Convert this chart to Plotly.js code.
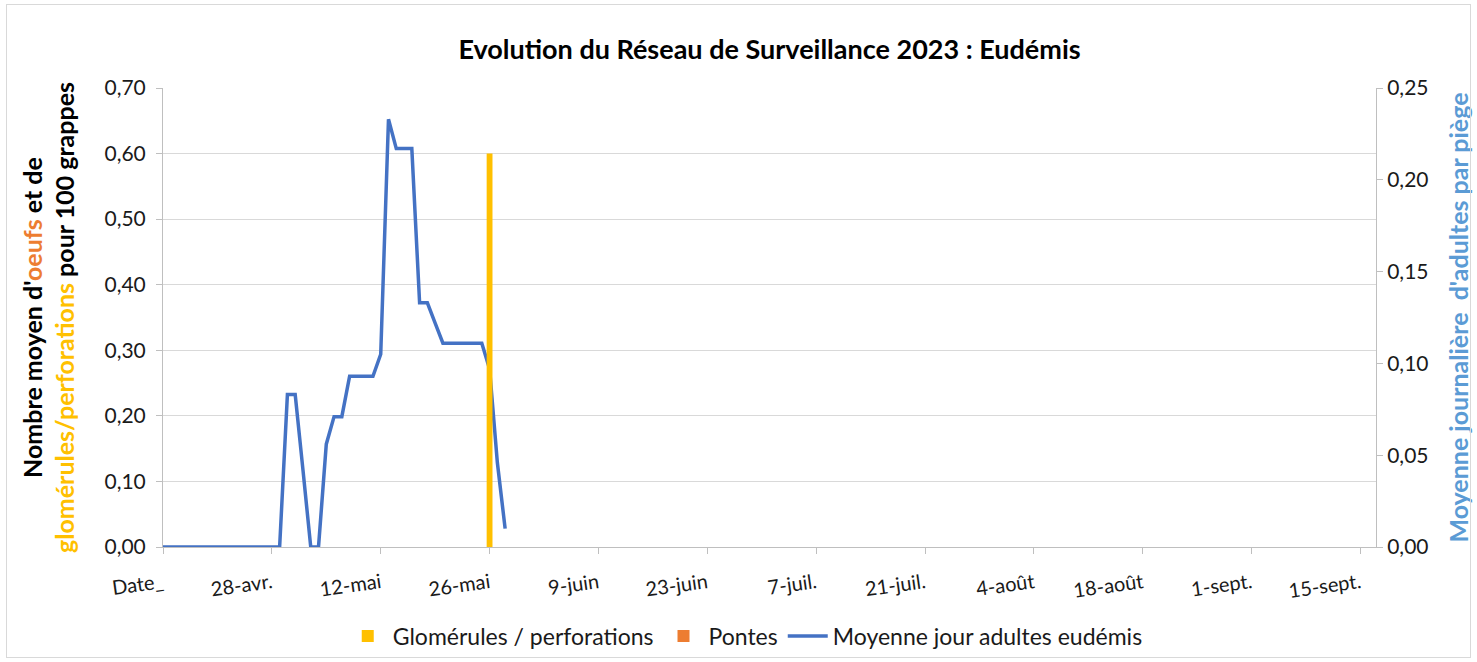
<!DOCTYPE html>
<html><head><meta charset="utf-8">
<script src="https://cdn.plot.ly/plotly-3.0.1.min.js"></script>
<style>
body{margin:0;padding:0;background:#fff;}
#wrap{position:relative;width:1477px;height:662px;}
#frame{position:absolute;left:6px;top:4px;width:1463px;height:652px;border:1px solid #d9d9d9;pointer-events:none;}
#chart{position:absolute;left:0;top:0;width:1477px;height:662px;}
</style></head>
<body><div id="wrap"><div id="chart"></div><div id="frame"></div></div>
<script>
// Tick dates and labels (every 14 days)
const tickDates = ['2023-04-14','2023-04-28','2023-05-12','2023-05-26','2023-06-09','2023-06-23','2023-07-07','2023-07-21','2023-08-04','2023-08-18','2023-09-01','2023-09-15'];
const tickLabels = ['Date_','28-avr.','12-mai','26-mai','9-juin','23-juin','7-juil.','21-juil.','4-août','18-août','1-sept.','15-sept.'];

// Moyenne jour adultes eudémis (daily values, right axis)
const adultDates = ['2023-04-14','2023-04-15','2023-04-16','2023-04-17','2023-04-18','2023-04-19','2023-04-20','2023-04-21','2023-04-22','2023-04-23','2023-04-24','2023-04-25','2023-04-26','2023-04-27','2023-04-28','2023-04-29','2023-04-30','2023-05-01','2023-05-02','2023-05-03','2023-05-04','2023-05-05','2023-05-06','2023-05-07','2023-05-08','2023-05-09','2023-05-10','2023-05-11','2023-05-12','2023-05-13','2023-05-14','2023-05-15','2023-05-16','2023-05-17','2023-05-18','2023-05-19','2023-05-20','2023-05-21','2023-05-22','2023-05-23','2023-05-24','2023-05-25','2023-05-26','2023-05-27','2023-05-28'];
const adultValues = [0,0,0,0,0,0,0,0,0,0,0,0,0,0,0,0,0.083,0.083,0.042,0,0,0.056,0.071,0.071,0.093,0.093,0.093,0.093,0.105,0.233,0.217,0.217,0.217,0.133,0.133,0.122,0.111,0.111,0.111,0.111,0.111,0.111,0.097,0.046,0.010];

// Glomérules / perforations (left axis)
const gloDates = ['2023-05-26'];
const gloValues = [0.60];

// Pontes (left axis)
const ponteDates = ['2023-05-26'];
const ponteValues = [0];

const DAY = 86400000;
const font = 'Lato, "Liberation Sans", sans-serif';

const traces = [
  {type:'bar', name:'Glomérules / perforations', x:gloDates, y:gloValues, yaxis:'y2',
   width:gloDates.map(()=>0.75*DAY), marker:{color:'#FFC000'}},
  {type:'bar', name:'Pontes', x:ponteDates, y:ponteValues, yaxis:'y2',
   width:ponteDates.map(()=>0.75*DAY), marker:{color:'#ED7D31'}},
  {type:'scatter', mode:'lines', name:'Moyenne jour adultes eudémis', x:adultDates, y:adultValues, yaxis:'y',
   line:{color:'#4472C4', width:3.5}}
];

const layout = {
  width:1477, height:662,
  margin:{l:163, r:101, t:88, b:115},
  paper_bgcolor:'#fff', plot_bgcolor:'#fff',
  font:{family:font, color:'#1a1a1a', size:20},
  separators:', ',
  showlegend:true,
  barmode:'overlay',
  title:{text:'<b>Evolution du Réseau de Surveillance 2023 : Eudémis</b>', font:{family:font, size:27, color:'#000'},
         x:0.5, xref:'paper', xanchor:'center', y:1-50/662, yref:'container', yanchor:'middle', automargin:false},
  xaxis:{type:'date', range:['2023-04-14','2023-09-17'], tickvals:tickDates, ticktext:tickLabels, automargin:false,
         tickangle:-8, tickfont:{size:20, color:'#1a1a1a'}, showgrid:false, zeroline:false, ticklabelstandoff:10,
         showline:true, linecolor:'#bfbfbf', linewidth:1, ticks:'outside', ticklen:6, tickcolor:'#bfbfbf'},
  yaxis:{side:'right', range:[0,0.25], dtick:0.05, tickformat:'.2f', showgrid:false, zeroline:false, automargin:false,
         showline:true, linecolor:'#bfbfbf', ticks:'outside', ticklen:6, tickcolor:'#bfbfbf',
         tickfont:{size:21, color:'#1a1a1a'},
         title:{text:"<b>Moyenne journalière&nbsp; d'adultes par piège</b>", font:{size:25, color:'#5B9BD5'}, standoff:22}},
  yaxis2:{overlaying:'y', side:'left', range:[0,0.7], dtick:0.1, tickformat:'.2f', showgrid:true, gridcolor:'#d9d9d9',
         zeroline:false, showline:true, linecolor:'#bfbfbf', ticks:'outside', ticklen:6, tickcolor:'#bfbfbf', automargin:false,
         tickfont:{size:21, color:'#1a1a1a'}, ticklabelstandoff:6,
         title:{text:"<b>Nombre moyen d'<span style=\"color:#ED7D31\">oeufs</span> et de<br><span style=\"color:#FFC000\">glomérules/perforations</span> pour 100 grappes</b>",
                font:{size:25, color:'#000'}, standoff:22}},
  legend:{orientation:'h', x:0.48, xanchor:'center', xref:'paper', y:(662-636)/662, yanchor:'middle', yref:'container',
          font:{size:23, color:'#1a1a1a'}, itemwidth:40, traceorder:'normal'}
};

Plotly.newPlot('chart', traces, layout, {displayModeBar:false, staticPlot:true});
</script></body></html>
